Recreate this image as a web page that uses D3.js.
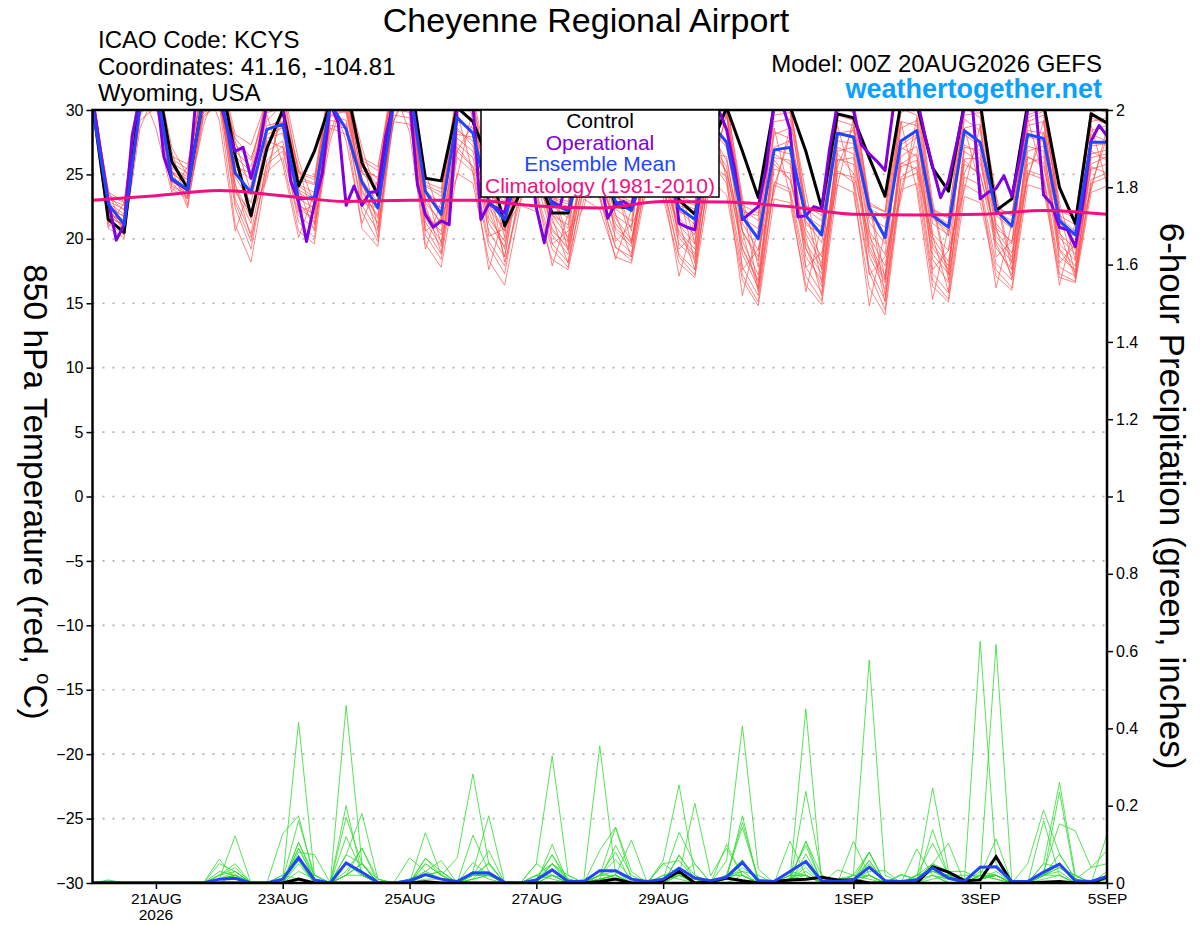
<!DOCTYPE html>
<html>
<head>
<meta charset="utf-8">
<script src="https://cdn.jsdelivr.net/npm/d3@7"></script>
<style>
  body { margin: 0; background: #fff; }
  text { font-family: "Liberation Sans", Arial, sans-serif; }
</style>
</head>
<body>
<div id="chart"></div>
<script>
// ---- data ----
var runStart = "2026-08-20T00:00:00Z";   // 00Z 20AUG2026 GEFS run

// 850 hPa temperature, 6-hourly, 65 values (20AUG 00Z .. 5SEP 00Z)
var controlTemp = [
  30.5, 21.5, 20.5, 31,   33, 26.0, 23.9, 31,   33, 26.5, 21.8, 27.0,
  30.0, 24.1, 26.8, 30.5, 32, 25.9, 23.4, 31,   33, 24.7, 24.5, 30.2,
  29.1, 26.0, 21.0, 23.6, 25.0, 22.0, 22.0, 27.0, 27.0, 22.5, 22.4, 27.0,
  26.0, 23.0, 21.9, 27.0, 30.2, 26.8, 23.2, 30.3, 30.3, 26.8, 22.4, 29.7,
  29.4, 26.3, 23.3, 30.5, 30.5, 25.5, 23.7, 30.5, 30.6, 22.2, 23.1, 30.5,
  30.5, 24.0, 21.2, 29.7, 29.0
];
var meanTemp = [
  30.2, 22.7, 21.1, 30.2, 32, 24.7, 23.8, 31,   32, 25.1, 23.6, 28.5,
  28.9, 23.1, 23.2, 30.5, 28.5, 24.4, 22.4, 30.5, 32, 23.7, 21.9, 29.4,
  28.2, 22.9, 21.5, 25.8, 26.0, 22.7, 22.2, 26.0, 25.5, 22.9, 22.2, 26.0,
  25.5, 22.4, 21.5, 29.0, 27.5, 21.7, 20.0, 26.9, 27.1, 21.8, 20.3, 28.2,
  27.9, 22.4, 20.1, 27.6, 28.4, 21.8, 20.9, 28.4, 27.5, 22.2, 21.0, 28.1,
  27.8, 21.4, 20.3, 27.5, 27.5
];
// operational run, 3-hourly, 129 values
var operTemp = [
  31, 26.8, 22.9, 19.9, 21.1, 28, 31, 33,
  32, 26.4, 24.6, 24.2, 23.8, 30.5, 32, 32,
  31, 28.6, 26.8, 27.1, 24.7, 27, 30.5, 31,
  30.5, 24.5, 22.9, 19.8, 22.7, 25.1, 30.5, 29,
  22.6, 24.1, 22.6, 23.6, 23.7, 28, 30.5, 32,
  31, 24.2, 21.9, 20.9, 21.4, 21.1, 30, 31,
  30.5, 21.5, 22.7, 22.4, 22.0, 25, 28, 27,
  22.4, 19.7, 22.9, 22.5, 25, 27, 28, 27,
  25, 21.6, 22.7, 22.9, 22.5, 25, 27, 28,
  28, 27, 21.2, 20.9, 20.7, 25, 28, 30,
  28.5, 25.5, 21.5, 22.0, 22.5, 25.5, 30.5, 30.5,
  28.5, 21.7, 21.8, 22.5, 22.3, 27, 30.5, 31,
  30, 27.3, 26.6, 26.0, 25.3, 30, 31.5, 32,
  31, 28.1, 25.6, 23.2, 24.5, 27.3, 30.2, 30.5,
  23.1, 23.6, 23.9, 24.9, 23.3, 26.3, 30, 30.3,
  23.4, 22.7, 20.9, 20.7, 19.4, 22.9, 27.6, 28.8,
  28.0
];
// ensemble members, 6-hourly
var tempMembers = [
  [31, 22.5,21.4, 31.5,33, 25.2,24.1, 31,32.5, 25.8,24.6, 29.2,30.4, 24.2,23.6, 31.4,30.8, 25.1,23.9, 32,31.2, 23.4,22.1, 30.2,29.1, 23.3,21.2, 27.4,26.1, 22.6,21.6, 27.2,26.4, 22.8,22.1, 28.3,26.2, 22.2,21.1, 29.4,27.3, 21.2,19.1, 27.1,27.6, 21.4,19.7, 28.2,28.4, 22.1,20.2, 27.3,28.1, 21.2,20.3, 28.1,27.2, 22.3,21.1, 28.4,28.2, 21.3,20.2, 27.2,27.4],
  [30.5, 21.2,20.3, 30.1,31, 24.3,23.2, 30.2,31.1, 22.4,19.2, 26.1,27.2, 21.3,20.1, 29.6,29.2, 22.1,19.8, 30.4,30.1, 20.3,18.4, 26.3,25.2, 19.4,17.3, 24.1,23.2, 19.2,17.8, 24.3,23.1, 19.4,18.3, 25.1,24.2, 18.6,17.2, 26.1,24.3, 17.2,15.1, 24.2,23.6, 17.1,15.2, 25.3,24.4, 17.4,14.5, 24.6,25.1, 16.8,15.3, 24.2,23.5, 17.6,16.2, 25.1,24.6, 17.3,16.7, 24.3,24.8],
  [31.5, 23.1,22.6, 32,33.5, 26.2,25.4, 32,33, 27.3,26.1, 30.5,31.2, 25.2,24.8, 32.5,32, 26.1,25.3, 33,32.5, 24.2,23.6, 31.5,30.6, 24.1,23.4, 29.3,28.5, 23.1,22.7, 29.5,28.6, 23.2,22.8, 30.5,29.3, 23.1,22.6, 31.6,30.2, 22.3,21.4, 30.4,30.6, 22.6,21.8, 31.2,30.9, 22.8,22.1, 30.6,31.4, 22.3,21.7, 31.1,30.2, 22.5,21.8, 30.8,31.2, 22.2,21.6, 29.8,30.3],
  [30.8, 22.1,21.2, 31.2,32.2, 24.8,23.6, 30.8,31.8, 24.2,21.6, 27.4,28.8, 23.1,22.4, 30.6,30.2, 23.6,21.8, 31.3,31.6, 22.2,20.3, 28.4,27.6, 21.6,19.8, 26.2,25.1, 21.3,19.7, 25.8,24.6, 21.2,19.6, 27.3,25.6, 20.6,19.2, 28.2,26.1, 19.8,17.2, 26.3,26.1, 19.6,17.8, 27.1,26.6, 19.8,17.1, 26.4,27.2, 19.3,17.6, 26.8,25.9, 20.2,18.6, 27.2,26.8, 19.6,18.3, 26.3,26.6],
  [31.2, 22.8,21.9, 30.6,31.8, 25.6,24.8, 31.6,32.2, 25.3,23.4, 28.3,29.6, 23.8,23.1, 31.2,31.6, 24.6,22.8, 31.8,32.3, 22.8,21.3, 29.6,28.2, 22.4,20.6, 27.8,27.1, 22.1,20.8, 28.2,27.1, 21.8,20.9, 28.8,27.8, 21.6,20.3, 29.8,28.6, 20.6,18.3, 28.1,28.6, 20.8,18.6, 29.2,28.8, 20.6,18.8, 28.6,29.2, 20.4,19.1, 29.3,28.4, 21.2,19.6, 29.1,29.6, 20.4,19.2, 28.4,28.8],
  [30.3, 20.8,20.1, 29.8,30.6, 23.9,23.1, 29.6,30.4, 21.1,18.2, 25.2,26.3, 20.6,19.6, 28.8,28.6, 20.8,19.4, 29.6,29.4, 19.6,17.8, 25.1,24.3, 18.3,16.4, 22.6,22.1, 18.4,17.6, 23.1,22.3, 18.6,18.1, 24.3,23.2, 18.1,17.0, 24.6,23.4, 16.8,14.8, 23.1,22.8, 16.4,14.9, 24.2,23.6, 16.2,14.1, 23.8,24.3, 16.3,15.1, 23.3,22.8, 17.1,16.0, 24.2,23.8, 17.0,16.6, 23.6,24.1],
  [31, 22.3,20.8, 31.8,32.6, 25.9,25.1, 32.2,33, 26.4,25.2, 30.2,30.8, 24.6,24.2, 31.8,32.2, 25.8,24.6, 32.6,32.8, 23.6,22.8, 30.8,30.2, 23.4,22.6, 28.6,27.8, 22.6,22.3, 28.8,27.9, 22.6,22.3, 29.6,28.8, 22.6,22.1, 30.8,29.6, 21.6,20.8, 29.6,29.8, 21.8,20.9, 30.3,29.8, 21.7,20.9, 29.8,30.4, 21.6,20.6, 30.2,29.4, 21.8,20.8, 30.1,30.4, 21.6,20.6, 29.1,29.4],
  [30.6, 21.8,21.0, 30.4,31.4, 24.6,23.4, 31.2,31.6, 23.1,20.4, 26.8,27.6, 22.3,21.6, 30.1,29.8, 23.3,21.2, 30.8,30.6, 21.3,19.4, 27.4,26.3, 20.6,18.6, 25.3,24.4, 20.3,18.8, 24.8,23.8, 20.1,18.9, 26.1,24.8, 19.6,18.4, 27.4,25.6, 18.8,16.2, 25.4,25.1, 18.6,16.8, 26.2,25.8, 18.7,16.1, 25.6,26.1, 18.4,16.6, 25.8,25.1, 19.3,17.6, 26.3,25.9, 18.6,17.6, 25.4,25.8],
  [31.3, 23.3,22.2, 31.4,32.8, 25.5,24.6, 30.9,32, 27.8,26.3, 29.8,30.1, 23.6,22.8, 30.9,31.2, 25.6,24.2, 31.6,31.8, 23.1,22.4, 29.1,28.6, 23.6,22.2, 28.1,27.2, 21.8,21.1, 27.8,26.8, 22.3,21.4, 29.1,27.6, 22.1,21.6, 30.2,28.4, 21.8,20.1, 28.3,27.8, 21.1,20.4, 29.6,29.2, 21.3,19.6, 29.1,28.8, 21.8,20.2, 28.6,28.9, 20.8,19.8, 28.8,29.1, 21.2,20.3, 28.1,27.6],
  [30.9, 22.6,21.7, 30.8,31.6, 24.4,23.8, 30.5,31.3, 24.8,22.8, 28.8,29.1, 22.8,21.2, 30.3,30.4, 24.1,22.3, 30.2,31.2, 21.8,20.6, 28.6,27.2, 22.1,19.2, 26.6,25.8, 20.8,19.2, 26.4,25.6, 20.6,19.4, 26.6,25.1, 20.4,18.8, 27.1,25.2, 19.3,16.8, 25.8,24.6, 19.2,17.3, 26.8,27.1, 19.1,16.6, 27.1,26.4, 18.8,17.3, 27.3,26.6, 19.8,18.2, 26.8,27.2, 19.2,17.9, 26.8,26.1],
  [31.1, 22.9,22.3, 31.1,32.4, 25.8,24.3, 31.4,32.6, 26.8,25.6, 31.1,30.2, 24.8,24.3, 32.1,31.4, 26.3,25.6, 32.2,32.1, 24.1,23.3, 31.1,29.6, 23.8,22.9, 29.8,28.8, 22.9,22.5, 29.9,28.2, 22.9,22.6, 30.1,29.1, 22.8,22.3, 31.2,29.8, 22.1,21.8, 29.1,29.3, 22.3,21.4, 30.8,30.1, 22.4,21.6, 30.1,29.6, 21.9,21.2, 29.6,29.8, 22.1,21.4, 29.6,30.1, 21.8,21.1, 29.4,28.9],
  [30.4, 21.5,20.6, 29.6,31.2, 24.1,23.3, 30.1,30.8, 22.8,19.8, 25.8,26.8, 21.8,20.8, 29.2,28.9, 22.6,20.6, 30.1,29.8, 20.8,18.8, 26.8,25.6, 19.8,17.9, 23.8,23.6, 19.6,18.2, 23.9,23.4, 19.3,18.6, 25.1,24.2, 18.8,17.6, 25.8,24.8, 17.8,15.6, 24.4,23.9, 17.8,15.8, 25.1,24.8, 17.8,15.2, 24.8,25.6, 17.3,15.8, 24.8,24.2, 18.1,16.8, 25.3,24.9, 17.8,17.1, 24.6,25.1],
  [31.4, 23.4,22.8, 32.2,33.2, 26.4,25.8, 31.8,33.4, 28.1,27.3, 30.8,31.6, 25.1,24.6, 31.6,32.4, 25.3,24.8, 32.4,33.1, 24.4,23.9, 30.4,30.8, 24.3,23.8, 29.1,28.1, 23.2,22.9, 28.6,28.9, 23.4,22.9, 29.8,28.4, 23.3,22.8, 30.6,30.8, 22.6,22.0, 30.8,30.2, 22.5,22.2, 29.8,30.6, 22.6,22.1, 31.2,30.8, 22.2,21.6, 30.6,30.8, 22.4,21.9, 29.4,29.9, 22.3,21.8, 30.2,29.8],
  [30.7, 21.9,21.4, 30.9,31.9, 25.1,24.2, 30.6,31.4, 23.8,21.2, 27.8,28.2, 22.6,21.9, 30.4,30.9, 23.8,21.6, 31.1,30.9, 21.6,19.8, 27.8,26.8, 21.2,19.4, 25.6,25.4, 20.6,19.4, 25.6,24.9, 20.8,19.8, 26.8,25.9, 20.1,18.6, 26.6,26.4, 19.2,16.6, 26.6,25.8, 19.3,16.3, 26.1,26.3, 19.4,16.8, 25.8,26.6, 19.6,17.9, 26.2,26.3, 19.6,17.2, 25.8,26.4, 19.1,17.4, 25.8,26.4],
  [30.6, 23.8,20.4, 28.6,31.5, 26.8,22.6, 29.4,30.6, 24.3,20.1, 25.3,29.8, 25.6,21.1, 27.6,31.6, 26.6,20.8, 29.2,31.4, 23.9,19.6, 26.8,28.9, 24.6,18.2, 23.1,27.6, 23.8,19.1, 24.6,27.8, 24.1,19.7, 25.6,28.9, 23.8,18.1, 25.3,29.6, 22.8,16.1, 24.1,27.9, 22.6,16.6, 25.6,28.7, 22.9,15.6, 23.8,28.1, 22.6,16.8, 25.1,27.6, 23.1,17.6, 24.8,28.3, 22.2,17.2, 24.1,27.9],
  [31, 20.9,22.8, 31.8,28.6, 23.6,25.6, 32.4,29.2, 20.6,24.2, 29.6,25.8, 20.1,23.6, 31.2,27.6, 21.2,24.6, 31.6,28.3, 19.2,22.9, 29.8,25.1, 17.6,22.1, 28.4,23.6, 17.9,21.9, 28.1,23.2, 18.4,22.3, 29.2,24.1, 17.1,21.6, 30.1,24.6, 15.6,20.8, 28.6,23.4, 15.9,21.1, 28.8,24.2, 14.8,20.6, 29.1,23.8, 15.3,20.9, 28.6,24.1, 16.2,21.2, 29.4,24.6, 16.4,21.3, 28.8,24.2],
  [30.9, 22.2,21.8, 30.2,32.1, 24.9,23.1, 28.8,32.4, 23.6,22.1, 24.6,30.6, 22.1,22.6, 28.1,32.1, 22.8,22.4, 29.1,32.6, 20.6,21.6, 24.8,30.1, 20.2,20.8, 22.8,28.6, 19.6,20.6, 22.4,28.2, 19.8,21.1, 23.6,29.1, 19.2,20.4, 24.6,29.8, 17.6,19.2, 23.6,28.6, 17.8,18.9, 24.2,29.3, 17.2,18.6, 23.1,29.4, 17.6,19.1, 23.8,28.8, 18.6,19.8, 24.6,29.2, 18.1,19.6, 23.8,28.6],
  [31.2, 23.6,22.9, 32.6,33.1, 27.1,24.9, 32.8,33.2, 27.6,23.6, 31.6,31.9, 26.1,22.6, 33,31.9, 27.1,23.1, 33.4,32.9, 25.1,21.6, 31.9,31.1, 25.2,20.1, 30.1,29.6, 24.2,19.8, 30.4,29.1, 24.1,20.6, 30.9,29.8, 24.6,19.6, 31.8,30.6, 23.2,17.8, 30.9,30.1, 23.6,17.6, 31.6,30.9, 23.1,16.9, 31.1,31.6, 22.9,17.2, 31.4,30.6, 23.4,18.1, 30.9,30.6, 22.8,18.4, 30.4,30.1],
  [30.2, 21.6,21.1, 29.2,30.2, 25.2,24.6, 29.8,30.4, 25.6,25.1, 27.6,27.1, 24.1,23.2, 28.6,28.1, 25.2,24.1, 29.1,28.9, 23.1,21.1, 27.1,25.6, 22.8,20.6, 25.6,24.1, 21.9,20.1, 25.9,24.1, 21.6,19.9, 26.6,24.6, 21.1,19.6, 27.6,25.1, 20.6,18.6, 26.1,24.6, 20.4,18.1, 26.6,25.1, 20.2,17.9, 25.9,25.4, 20.1,18.2, 26.1,24.9, 20.6,18.9, 26.4,25.6, 20.1,18.8, 25.6,25.1],
  [30.8, 22.4,20.6, 31.1,31.2, 25.4,22.4, 30.1,31.9, 26.1,21.6, 28.1,28.6, 23.9,20.6, 29.6,29.9, 24.6,20.1, 30.6,30.9, 22.6,18.9, 28.1,27.9, 22.9,18.6, 26.1,26.6, 21.6,18.1, 26.6,25.9, 21.9,18.6, 27.6,26.6, 21.2,17.6, 28.6,27.1, 20.6,15.9, 26.9,26.6, 20.1,15.6, 27.6,27.4, 20.6,15.1, 26.9,27.9, 20.2,15.9, 27.1,26.9, 20.9,16.9, 27.9,27.6, 20.6,16.9, 26.6,26.9]
];
// 1981-2010 climatology, daily at 00Z (17 values)
var climoTemp = [23.0, 23.35, 23.75, 23.35, 22.9, 23.0, 23.0, 22.55, 22.4,
                 22.9, 22.85, 22.5, 21.9, 21.85, 21.9, 22.2, 21.9];

// 6-hour precipitation (inches), 6-hourly, 65 values
var controlPrcp = [
  0, 0, 0, 0,   0, 0, 0, 0,   0, 0, 0, 0,   0, .01, 0, 0,
  0, 0, 0, 0,   0, .003, 0, 0,   0, 0, 0, 0,   0, 0, 0, 0,
  .004, .01, 0, 0,   .006, .03, 0, .004,   .013, .006, 0, .004,   .008, .01, .015, .008,
  .008, 0, 0, 0,   0, .042, .028, .006,   .008, .068, 0, 0,   .002, .004, 0, 0,
  .016
];
var meanPrcp = [
  0, .002, 0, 0,   0, 0, 0, 0,   .01, .012, 0, 0,   .01, .066, .008, 0,
  .052, .028, .002, 0,   .006, .022, .01, .004,   .026, .026, .002, 0,   .008, .034, .004, .004,
  .032, .032, .01, .004,   .01, .038, .013, .006,   .015, .053, .006, .004,   .03, .056, .006, .004,
  .008, .041, .006, .004,   .008, .039, .013, .004,   .041, .042, .004, .004,   .028, .049, .006, .004,
  .017
];
var prcpMembers = [
  [0,.008,0,0, 0,0,0,0, .02,.04,0,0, .01,.416,.02,0, .05,.02,0,0, .01,.03,.01,0, .03,.01,0,0, .01,.05,0,0, .03,.01,0,0, .01,.03,0,0, .02,.06,0,0, .01,.03,0,0, .02,.01,0,0, .01,.04,0,0, .02,.01,0,0, .05,.26,.02,0, .01],
  [0,0,0,0, 0,0,0,0, .05,.03,0,0, 0,.09,.01,0, .459,.05,0,0, 0,.02,.03,0, .02,.05,0,0, 0,.02,0,0, .02,.06,.01,0, 0,.07,.02,0, .01,.04,.01,0, .03,.02,0,0, .01,.08,0,0, 0,.02,.01,0, .03,.02,0,0, .02,.235,.01,0, .02],
  [0,0,0,0, 0,0,0,0, .01,.122,0,0, .02,.058,0,0, .02,.09,.01,0, 0,.064,.02,.064, .282,.05,0,0, .02,.01,0,0, .01,.02,0,0, .02,.01,0,0, 0,.02,0,0, .108,.02,0,0, 0,.02,0,0, .02,.103,.02,0, .01,.03,0,.05, .189,.075,.01,0, .03],
  [0,0,0,0, 0,0,0,0, .03,.02,0,0, .127,.174,.01,0, .02,.05,0,0, 0,.13,.02,0, .02,.02,0,0, .05,.329,.02,0, .01,.02,0,0, 0,.02,.05,0, .02,.02,0,0, .02,.097,0,.01, .01,.02,0,0, 0,.01,.02,0, .01,.02,0,0, .161,.02,0,0, .01],
  [0,0,0,0, 0,0,0,0, .01,.03,0,0, 0,.105,.02,0, .2,.02,0,0, 0,.05,.02,0, .124,.03,0,0, .01,.073,0,.01, .355,.02,0,0, 0,.073,.01,0, .02,.03,.02,0, 0,.075,0,0, 0,.058,0,0, .02,.03,.01,0, .02,.01,0,0, .02,.04,.02,0, .125],
  [0,0,0,0, 0,0,0,0, 0,.02,0,0, .01,.161,.02,0, .073,.18,.01,0, .01,.02,.01,0, .01,.02,0,0, 0,.02,0,0, .02,.144,.03,0, .058,.254,.02,0, .1,.02,0,0, .01,.02,0,0, .01,.02,0,0, .088,.02,0,0, .01,.02,0,0, .03,.153,.135,.04, .084],
  [0,0,0,0, 0,0,0,0, .01,.02,0,0, 0,.08,.073,0, .12,.03,0,0, .065,.03,.058,0, .03,.174,0,0, 0,.1,0,0, .01,.02,.111,0, 0,.02,.206,.019, .09,.02,0,0, .01,.04,0,0, .108,.02,0,0, .01,.05,.03,.03, .01,.02,0,0, .01,.02,0,0, 0],
  [0,0,0,0, 0,0,0,0, .062,.01,0,0, 0,.09,.01,0, .17,.05,0,0, 0,.03,.01,0, .053,.02,0,0, .02,.05,.01,0, .01,.097,.02,0, .05,.02,0,0, .058,.407,.036,0, .02,.02,0,0, .01,.03,.032,0, 0,.138,.02,0, .02,.114,0,0, .02,.05,0,0, .02],
  [0,0,0,0, 0,0,0,0, .02,.05,0,0, .01,.066,.01,0, .02,.02,0,0, 0,.022,.01,0, .02,.084,0,0, 0,.05,.02,0, .084,.144,.01,0, 0,.02,.01,0, .02,.157,.01,0, .01,.45,0,.034, .02,.02,0,.023, .01,.05,.103,0, .02,.02,0,0, .02,.04,.02,0, .02],
  [0,0,0,0, 0,0,0,0, .01,.01,0,0, 0,.058,0,0, .05,.02,0,0, .01,.02,.03,0, .01,.053,0,0, .01,.02,0,0, .02,.02,0,0, .01,.131,.05,0, .01,.174,0,0, 0,.237,.02,0, 0,.08,0,0, .01,.02,0,0, .01,.02,0,0, .02,.075,.01,0, .01],
  [0,0,0,0, 0,0,0,0, .01,.02,0,0, .02,.01,0,0, .02,.05,.01,0, 0,.01,.01,0, .02,.02,0,0, .02,.02,.01,0, .02,.08,0,0, .01,.02,.01,0, .02,.144,.01,0, .01,.108,.02,0, .02,.577,.02,0, .01,.03,.02,.02, .02,.02,0,0, .05,.04,.01,.04, .05],
  [0,0,0,0, 0,0,0,0, .01,.02,0,0, 0,.05,0,0, .03,.09,0,0, 0,.064,.03,0, .03,.03,0,0, .05,.02,0,0, .01,.01,0,0, .05,.058,.01,0, .02,.058,0,0, .01,.108,0,.01, .02,.08,0,.02, .01,.246,.03,0, .01,.02,0,0, .02,.02,0,0, .01],
  [0,0,0,0, 0,0,0,0, .02,.03,0,0, 0,.105,.01,0, .073,.05,0,0, 0,.05,.02,0, .02,.02,0,0, .01,.073,.01,0, .01,.02,0,0, .01,.02,0,0, .02,.02,0,0, .02,.02,0,0, .01,.05,0,0, .02,.05,.01,0, .625,.05,0,0, .02,.05,.01,0, .02],
  [0,0,0,0, 0,0,0,0, .01,.02,0,0, 0,.03,.01,0, .02,.05,0,0, 0,.02,.01,0, .01,.02,0,0, 0,.05,.01,0, .02,.03,0,0, .02,.03,0,0, .01,.03,0,0, .01,.05,0,0, .01,.058,0,0, .02,.03,.02,0, .02,.617,0,0, .02,.03,0,0, .02]
];

// axis ticks and labels
var tempTicks = [-30, -25, -20, -15, -10, -5, 0, 5, 10, 15, 20, 25, 30];
var prcpTicks = [0, 0.2, 0.4, 0.6, 0.8, 1, 1.2, 1.4, 1.6, 1.8, 2];
var dayTicks = ["2026-08-21", "2026-08-23", "2026-08-25", "2026-08-27",
                "2026-08-29", "2026-09-01", "2026-09-03", "2026-09-05"];
var dayLabels = ["21AUG", "23AUG", "25AUG", "27AUG", "29AUG", "1SEP", "3SEP", "5SEP"];

// ---- layout ----
var svgWidth = 1200;
var svgHeight = 927;
var margin = { top: 110, right: 93, bottom: 44, left: 92.5 };
var width = svgWidth - margin.left - margin.right;
var height = svgHeight - margin.top - margin.bottom;

var svg = d3.select("#chart")
  .append("svg")
  .attr("width", svgWidth)
  .attr("height", svgHeight);

var chartGroup = svg.append("g")
  .attr("transform", `translate(${margin.left}, ${margin.top})`);

var t0 = Date.parse(runStart);
function timeAt(i, stepHours) {
  return new Date(t0 + i * stepHours * 3600 * 1000);
}

var xScale = d3.scaleUtc()
  .domain([timeAt(0, 6), timeAt(64, 6)])
  .range([0, width]);
var yTemp = d3.scaleLinear().domain([-30, 30]).range([height, 0]);
var yPrcp = d3.scaleLinear().domain([0, 2]).range([height, 0]);

// dotted grid at temperature ticks
chartGroup.selectAll(".grid")
  .data(tempTicks.filter(d => d > -30 && d < 30))
  .enter()
  .append("line")
  .attr("x1", 0)
  .attr("x2", width)
  .attr("y1", d => yTemp(d))
  .attr("y2", d => yTemp(d))
  .attr("stroke", "#b0b0b0")
  .attr("stroke-width", 1.6)
  .attr("stroke-dasharray", "2,8");

chartGroup.append("clipPath")
  .attr("id", "plotClip")
  .append("rect")
  .attr("width", width)
  .attr("height", height);

var plot = chartGroup.append("g").attr("clip-path", "url(#plotClip)");

function tempLine(step) {
  return d3.line().x((d, i) => xScale(timeAt(i, step))).y(d => yTemp(d));
}
var prcpLine = d3.line().x((d, i) => xScale(timeAt(i, 6))).y(d => yPrcp(d));

// ensemble members
plot.selectAll(".tmem")
  .data(tempMembers)
  .enter()
  .append("path")
  .attr("d", tempLine(6))
  .attr("fill", "none")
  .attr("stroke", "#ff4a4a")
  .attr("stroke-opacity", 0.85)
  .attr("stroke-width", 0.8);

plot.selectAll(".pmem")
  .data(prcpMembers)
  .enter()
  .append("path")
  .attr("d", prcpLine)
  .attr("fill", "none")
  .attr("stroke", "#2cdc2c")
  .attr("stroke-width", 0.8);

// control, operational, mean
plot.append("path").datum(controlPrcp)
  .attr("d", prcpLine).attr("fill", "none")
  .attr("stroke", "#000").attr("stroke-width", 3);
plot.append("path").datum(meanPrcp)
  .attr("d", prcpLine).attr("fill", "none")
  .attr("stroke", "#2244ff").attr("stroke-width", 3);

plot.append("path").datum(controlTemp)
  .attr("d", tempLine(6)).attr("fill", "none")
  .attr("stroke", "#000").attr("stroke-width", 3)
  .attr("stroke-linejoin", "round");
plot.append("path").datum(operTemp)
  .attr("d", tempLine(3)).attr("fill", "none")
  .attr("stroke", "#7f00e0").attr("stroke-width", 3)
  .attr("stroke-linejoin", "round");
plot.append("path").datum(meanTemp)
  .attr("d", tempLine(6)).attr("fill", "none")
  .attr("stroke", "#2244ff").attr("stroke-width", 3)
  .attr("stroke-linejoin", "round");
plot.append("path").datum(climoTemp)
  .attr("d", d3.line().curve(d3.curveMonotoneX)
    .x((d, i) => xScale(timeAt(i, 24))).y(d => yTemp(d)))
  .attr("fill", "none")
  .attr("stroke", "#f0107f").attr("stroke-width", 3);

// axes
var leftAxis = d3.axisLeft(yTemp).tickValues(tempTicks)
  .tickSize(6).tickSizeOuter(0).tickPadding(3);
var rightAxis = d3.axisRight(yPrcp).tickValues(prcpTicks)
  .tickFormat(d => String(d)).tickSize(6).tickSizeOuter(0).tickPadding(3);
var bottomAxis = d3.axisBottom(xScale)
  .tickValues(dayTicks.map(d => new Date(d + "T00:00:00Z")))
  .tickFormat((d, i) => dayLabels[i])
  .tickSize(6).tickSizeOuter(0).tickPadding(4);

function styleAxis(g, size) {
  g.select(".domain").remove();
  g.attr("font-family", "Liberation Sans, Arial, sans-serif").attr("font-size", size);
  g.selectAll("line").attr("stroke", "#000").attr("stroke-width", 1.5);
  g.selectAll("text").attr("fill", "#000");
}

chartGroup.append("g").call(leftAxis).call(g => styleAxis(g, 16));
chartGroup.append("g")
  .attr("transform", `translate(${width}, 0)`)
  .call(rightAxis).call(g => styleAxis(g, 16));
var xAxis = chartGroup.append("g")
  .attr("transform", `translate(0, ${height})`)
  .call(bottomAxis).call(g => styleAxis(g, 15.5));

// year under the first date label
xAxis.append("text")
  .attr("x", xScale(new Date(dayTicks[0] + "T00:00:00Z")))
  .attr("y", 37)
  .attr("text-anchor", "middle")
  .attr("fill", "#000")
  .text("2026");

// frame
chartGroup.append("rect")
  .attr("width", width)
  .attr("height", height)
  .attr("fill", "none")
  .attr("stroke", "#000")
  .attr("stroke-width", 2.5);

// legend box
var legend = svg.append("g");
legend.append("rect")
  .attr("x", 481).attr("y", 110)
  .attr("width", 238).attr("height", 87)
  .attr("fill", "#fff").attr("stroke", "#000").attr("stroke-width", 1.5);
var legendItems = [
  { label: "Control", color: "#000" },
  { label: "Operational", color: "#7f00e0" },
  { label: "Ensemble Mean", color: "#2244ff" },
  { label: "Climatology (1981-2010)", color: "#f0107f" }
];
legend.selectAll(".leg")
  .data(legendItems)
  .enter()
  .append("text")
  .attr("x", 600)
  .attr("y", (d, i) => 128 + i * 21.6)
  .attr("text-anchor", "middle")
  .attr("font-size", 21)
  .attr("fill", d => d.color)
  .text(d => d.label);

// header texts
svg.append("text")
  .attr("x", 586).attr("y", 32)
  .attr("text-anchor", "middle")
  .attr("font-size", 34)
  .text("Cheyenne Regional Airport");

var headLeft = ["ICAO Code: KCYS", "Coordinates: 41.16, -104.81", "Wyoming, USA"];
svg.selectAll(".hl")
  .data(headLeft)
  .enter()
  .append("text")
  .attr("x", 98)
  .attr("y", (d, i) => 48 + i * 26.5)
  .attr("font-size", 24)
  .text(d => d);

svg.append("text")
  .attr("x", 1102).attr("y", 72)
  .attr("text-anchor", "end")
  .attr("font-size", 24)
  .text("Model: 00Z 20AUG2026 GEFS");

svg.append("text")
  .attr("x", 1102).attr("y", 98)
  .attr("text-anchor", "end")
  .attr("font-size", 27)
  .attr("font-weight", "bold")
  .attr("fill", "#0aa0ff")
  .text("weathertogether.net");

// axis titles (both read top to bottom)
var leftTitle = svg.append("text")
  .attr("transform", "translate(24, 492) rotate(90)")
  .attr("text-anchor", "middle")
  .attr("font-size", 33.5);
leftTitle.append("tspan").text("850 hPa Temperature (red, ");
leftTitle.append("tspan").attr("font-size", 20).attr("dy", -13).text("o");
leftTitle.append("tspan").attr("dy", 13).text("C)");

svg.append("text")
  .attr("transform", "translate(1160, 496) rotate(90)")
  .attr("text-anchor", "middle")
  .attr("font-size", 35)
  .text("6-hour Precipitation (green, inches)");
</script>
</body>
</html>
